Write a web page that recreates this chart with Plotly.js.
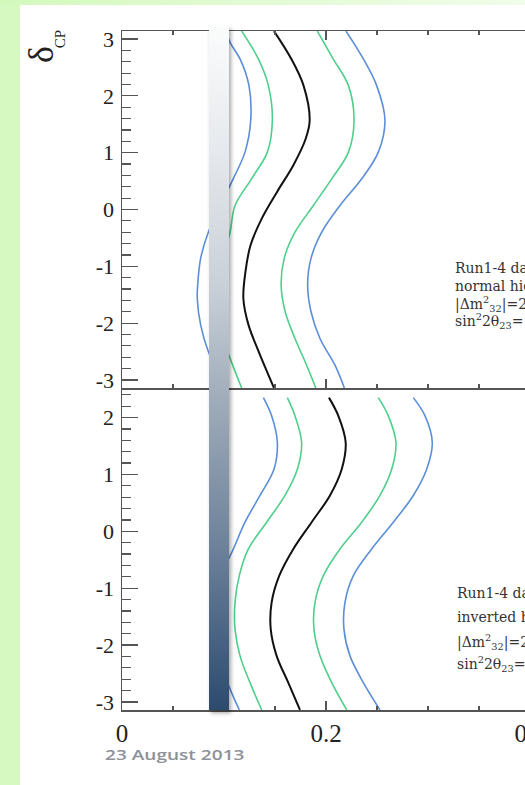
<!DOCTYPE html>
<html><head><meta charset="utf-8">
<script src="https://cdn.plot.ly/plotly-3.0.1.min.js"></script>
<style>
html,body{margin:0;padding:0;width:525px;height:785px;overflow:hidden;background:#d5f9c0;}
#topstrip{position:absolute;left:0;top:0;width:525px;height:5px;background:linear-gradient(to right,#d3f9bd,#f1fdea);}
#sheet{position:absolute;left:20px;top:5px;width:505px;height:780px;background:#ffffff;}
#chart{position:absolute;left:0;top:0;width:660px;height:785px;}
#bar{position:absolute;left:209px;top:26px;width:20px;height:684px;
 background:linear-gradient(to bottom,#fbfcfc 0%,#e6e9ed 18%,#c9d0d8 38%,#9ca9b8 56%,#6d829b 76%,#2c4b6f 100%);
 box-shadow:2px 3px 4px rgba(0,0,0,0.35);}
#date{position:absolute;left:105px;top:744px;font-family:'Open Sans',sans-serif;font-weight:600;font-size:15px;color:#8d9198;white-space:nowrap;transform:scaleX(1.27);transform-origin:0 50%;}
</style></head>
<body>
<div id="topstrip"></div>
<div id="sheet"></div>
<div id="chart"></div>
<div id="bar"></div>
<div id="date">23 August 2013</div>
<script>
// ---- Top panel: normal hierarchy ----
var nhBestDelta   = [3.14, 2.65, 2.18, 1.57, 1.24, 0.78, 0.31, -0.16, -0.63, -1.10, -1.57, -2.03, -2.50, -2.91, -3.14];
var nhBestX       = [0.149, 0.166, 0.178, 0.184, 0.180, 0.168, 0.152, 0.137, 0.126, 0.121, 0.119, 0.124, 0.134, 0.1435, 0.149];
var nhRightDelta  = [3.14, 2.65, 2.18, 1.57, 1.01, 0.54, 0.07, -0.40, -0.86, -1.33, -1.80, -2.27, -2.74, -3.14];
var nh68RightX    = [0.1915, 0.207, 0.222, 0.2275, 0.222, 0.2056, 0.1876, 0.1696, 0.159, 0.156, 0.160, 0.1696, 0.181, 0.190];
var nh90RightX    = [0.2196, 0.2366, 0.2497, 0.2578, 0.2513, 0.235, 0.2137, 0.1958, 0.1853, 0.182, 0.1853, 0.1941, 0.2088, 0.218];
var nh68LeftDelta = [3.14, 2.65, 2.18, 1.57, 1.01, 0.54, 0.07, -0.40, -0.95, -1.45, -2.05, -2.62, -3.14];
var nh68LeftX     = [0.1173, 0.1337, 0.1435, 0.1474, 0.1425, 0.127, 0.1108, 0.1059, 0.097, 0.091, 0.095, 0.106, 0.1173];
var nh90LeftDelta = [3.14, 2.94, 2.65, 2.18, 1.57, 1.01, 0.54, 0.10, -0.40, -0.86, -1.33, -1.57, -2.03, -2.50, -2.90, -3.14];
var nh90LeftX     = [0.102, 0.1059, 0.1157, 0.1245, 0.1262, 0.1206, 0.109, 0.097, 0.0846, 0.0771, 0.0742, 0.0738, 0.0771, 0.0846, 0.095, 0.102];

// ---- Bottom panel: inverted hierarchy ----
var ihDelta       = [2.35, 2.03, 1.56, 1.09, 0.63, 0.16, -0.31, -0.78, -1.25, -1.72, -2.19, -2.66, -3.14];
var ihBestX       = [0.2029, 0.2121, 0.2193, 0.2154, 0.2039, 0.1859, 0.168, 0.1542, 0.1467, 0.1458, 0.1516, 0.163, 0.1745];
var ih68RightX    = [0.2513, 0.2611, 0.2686, 0.2644, 0.2529, 0.235, 0.2137, 0.1974, 0.1892, 0.1882, 0.1941, 0.2056, 0.2203];
var ih68LeftX     = [0.1621, 0.1696, 0.1761, 0.1719, 0.1598, 0.1418, 0.1239, 0.115, 0.1108, 0.1108, 0.1157, 0.1255, 0.137];
var ih90RightX    = [0.2856, 0.2971, 0.3042, 0.2987, 0.2856, 0.266, 0.2448, 0.2268, 0.2186, 0.2176, 0.2235, 0.2366, 0.2529];
var ih90LeftDelta = [2.35, 2.03, 1.56, 1.09, 0.63, 0.16, -0.31, -0.78, -1.25, -1.72, -2.19, -2.77, -3.14];
var ih90LeftX     = [0.1386, 0.1467, 0.1523, 0.149, 0.1353, 0.1206, 0.1092, 0.097, 0.089, 0.088, 0.094, 0.1059, 0.115];

// ---- Tick labels ----
var xTickVals = [0, 0.2, 0.4];
var xTickText = ['0', '0.2', '0.4'];
var yTopTickVals = [-3, -2, -1, 0, 1, 2, 3];
var yTopTickText = ['-3', '-2', '-1', '0', '1', '2', '3'];
var yBotTickVals = [-3, -2, -1, 0, 1, 2];
var yBotTickText = ['-3', '-2', '-1', '0', '1', '2'];

// ---- Text ----
var nhText = ['Run1-4 data', 'normal hierarchy', '|\u0394m<sup>2</sup><sub>32</sub>|=2.4\u00d710<sup>-3</sup>eV<sup>2</sup>', 'sin<sup>2</sup>2\u03b8<sub>23</sub>=1.0'];
var ihText = ['Run1-4 data', 'inverted hierarchy', '|\u0394m<sup>2</sup><sub>32</sub>|=2.4\u00d710<sup>-3</sup>eV<sup>2</sup>', 'sin<sup>2</sup>2\u03b8<sub>23</sub>=1.0'];
var nhTextDelta = [-1.03, -1.35, -1.665, -1.965];
var ihTextDelta = [-1.09, -1.51, -1.94, -2.34];

var BLACK = '#111111', GREEN = '#4fcf8b', BLUE = '#5b8fd8';
function tr(x, y, color, w, xa, ya) {
  return {x: x, y: y, type: 'scatter', mode: 'lines', xaxis: xa, yaxis: ya,
    line: {color: color, width: w, shape: 'spline', smoothing: 1}, hoverinfo: 'skip', showlegend: false};
}
var data = [
  tr(nh90LeftX, nh90LeftDelta, BLUE, 1.6, 'x2', 'y2'),
  tr(nh68LeftX, nh68LeftDelta, GREEN, 1.6, 'x2', 'y2'),
  tr(nhBestX, nhBestDelta, BLACK, 2, 'x2', 'y2'),
  tr(nh68RightX, nhRightDelta, GREEN, 1.6, 'x2', 'y2'),
  tr(nh90RightX, nhRightDelta, BLUE, 1.6, 'x2', 'y2'),
  tr(ih90LeftX, ih90LeftDelta, BLUE, 1.6, 'x', 'y'),
  tr(ih68LeftX, ihDelta, GREEN, 1.6, 'x', 'y'),
  tr(ihBestX, ihDelta, BLACK, 2, 'x', 'y'),
  tr(ih68RightX, ihDelta, GREEN, 1.6, 'x', 'y'),
  tr(ih90RightX, ihDelta, BLUE, 1.6, 'x', 'y')
];

var AX = '#555555';
var serif = 'Liberation Serif, Times New Roman, serif';
var wideSerif = 'DejaVu Serif, serif';
function xaxisBase(extra) {
  var a = {range: [0, 0.5], showgrid: false, zeroline: false, showline: true, linecolor: AX, linewidth: 1.5,
    ticks: 'inside', ticklen: 9, tickwidth: 1.2, tickcolor: AX, tickmode: 'array', tickvals: xTickVals, ticktext: xTickText,
    minor: {dtick: 0.05, tick0: 0, ticks: 'inside', ticklen: 4, tickwidth: 1.2, tickcolor: AX},
    tickfont: {family: serif, size: 25, color: '#222'}};
  for (var k in extra) a[k] = extra[k];
  return a;
}
function yaxisBase(extra) {
  var a = {showgrid: false, zeroline: false, showline: true, linecolor: AX, linewidth: 1.5, mirror: 'ticks',
    ticks: 'inside', ticklen: 16, tickwidth: 1.2, tickcolor: AX, tickmode: 'array',
    minor: {dtick: 0.2, tick0: 0, ticks: 'inside', ticklen: 9, tickwidth: 1.2, tickcolor: AX},
    tickfont: {family: serif, size: 22, color: '#222'}, ticklabelstandoff: 2};
  for (var k in extra) a[k] = extra[k];
  return a;
}

var annotations = [];
nhText.forEach(function (t, i) {
  annotations.push({xref: 'x2', yref: 'y2', x: 0.3245, y: nhTextDelta[i], text: t, showarrow: false,
    xanchor: 'left', yanchor: 'middle', font: {family: wideSerif, size: 14, color: '#333'}});
});
ihText.forEach(function (t, i) {
  annotations.push({xref: 'x', yref: 'y', x: 0.3265, y: ihTextDelta[i], text: t, showarrow: false,
    xanchor: 'left', yanchor: 'middle', font: {family: wideSerif, size: 14, color: '#333'}});
});
// y-axis title: δ with CP subscript
annotations.push({xref: 'paper', yref: 'paper', x: -0.1588, y: 0.9647, text: '\u03b4', textangle: -90,
  showarrow: false, xanchor: 'center', yanchor: 'middle', font: {family: serif, size: 36, color: '#222'}});
annotations.push({xref: 'paper', yref: 'paper', x: -0.1215, y: 0.988, text: 'CP', textangle: -90,
  showarrow: false, xanchor: 'center', yanchor: 'middle', font: {family: serif, size: 15, color: '#222'}});

var layout = {
  width: 660, height: 785,
  margin: {l: 122, r: 28, t: 31, b: 75},
  paper_bgcolor: 'rgba(0,0,0,0)', plot_bgcolor: 'rgba(0,0,0,0)',
  showlegend: false,
  xaxis: xaxisBase({anchor: 'y', mirror: false}),
  xaxis2: xaxisBase({anchor: 'y2', mirror: 'ticks', showticklabels: false}),
  yaxis: yaxisBase({domain: [0, 0.4742], range: [-3.1416, 2.519], tickvals: yBotTickVals, ticktext: yBotTickText, anchor: 'x'}),
  yaxis2: yaxisBase({domain: [0.4742, 1], range: [-3.1416, 3.1416], tickvals: yTopTickVals, ticktext: yTopTickText, anchor: 'x2'}),
  annotations: annotations
};
Plotly.newPlot('chart', data, layout, {displayModeBar: false, staticPlot: true});
</script>
</body></html>
